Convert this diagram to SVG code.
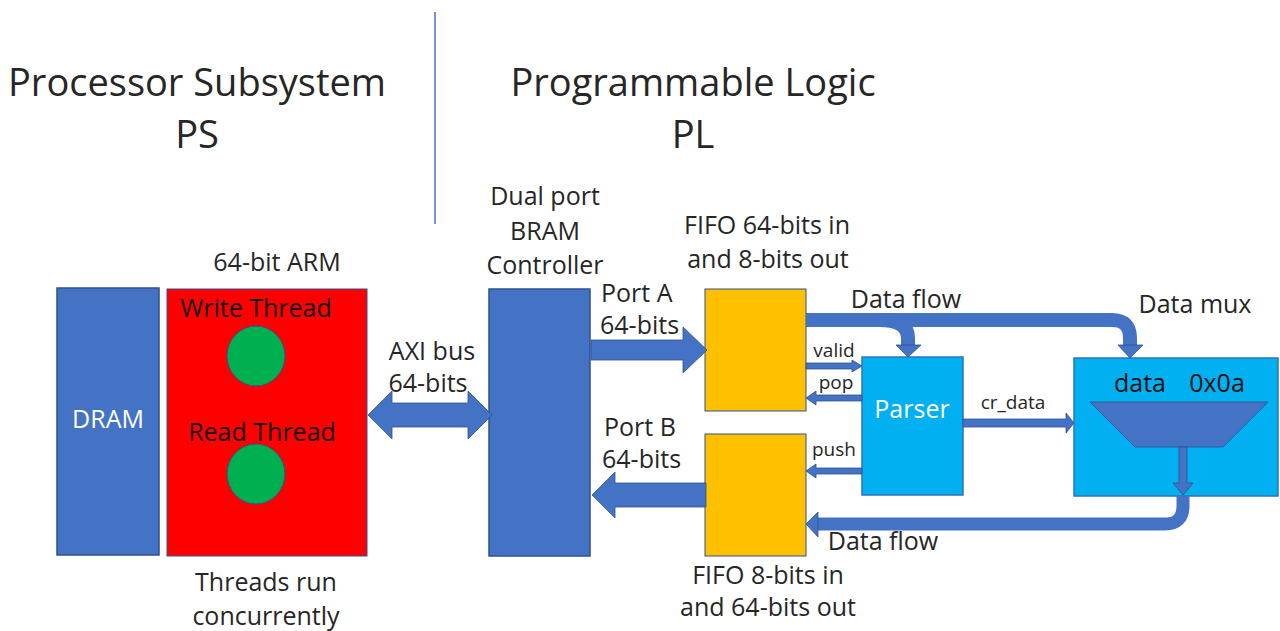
<svg xmlns="http://www.w3.org/2000/svg" width="1280" height="631" viewBox="0 0 1280 631">
<style>
text{font-family:"Open Sans","Liberation Sans",sans-serif;fill:#262626}
.t{font-size:38px}
.l{font-size:25px}
.s{font-size:19px}
.blk{fill:#4472C4;stroke:#2F528F;stroke-width:1.5}
.yel{fill:#FFC000;stroke:#2F528F;stroke-width:1}
.cy{fill:#00B0F0;stroke:#2E75B6;stroke-width:1.5}
.ar{fill:#4472C4;stroke:#2F528F;stroke-width:0.8}
.pipe{fill:none;stroke:#4472C4;stroke-width:14}
</style>
<rect width="1280" height="631" fill="#ffffff"/>
<line x1="435" y1="12" x2="435" y2="224" stroke="#4472C4" stroke-width="1.5"/>
<text class="t" x="197" y="96" text-anchor="middle">Processor Subsystem</text>
<text class="t" x="197" y="148" text-anchor="middle">PS</text>
<text class="t" x="693" y="96" text-anchor="middle">Programmable Logic</text>
<text class="t" x="693" y="148" text-anchor="middle">PL</text>

<g id="dram">
<rect class="blk" x="57" y="288" width="102" height="267"/>
<text class="l" x="108" y="428" text-anchor="middle" style="fill:#ffffff">DRAM</text>
</g>
<g id="arm">
<text class="l" x="277" y="271" text-anchor="middle">64-bit ARM</text>
<rect x="167" y="289" width="200" height="267" fill="#FF0000" stroke="#2F528F" stroke-width="1"/>
<text class="l" x="256" y="317" text-anchor="middle" style="fill:#111">Write Thread</text>
<ellipse cx="256" cy="356" rx="29" ry="30" fill="#00B050" stroke="#2F528F" stroke-width="1"/>
<text class="l" x="262" y="441" text-anchor="middle" style="fill:#111">Read Thread</text>
<ellipse cx="256" cy="474" rx="29" ry="30" fill="#00B050" stroke="#2F528F" stroke-width="1"/>
<text class="l" x="266" y="591" text-anchor="middle">Threads run</text>
<text class="l" x="266" y="625" text-anchor="middle">concurrently</text>
</g>
<g id="bram">
<text class="l" x="545" y="205" text-anchor="middle">Dual port</text>
<text class="l" x="545" y="240" text-anchor="middle">BRAM</text>
<text class="l" x="545" y="274" text-anchor="middle">Controller</text>
<rect class="blk" x="489" y="289" width="101" height="267"/>
</g>
<g id="fifo_in">
<text class="l" x="767" y="234" text-anchor="middle">FIFO 64-bits in</text>
<text class="l" x="768" y="268" text-anchor="middle">and 8-bits out</text>
<rect class="yel" x="705" y="289" width="101" height="122"/>
</g>
<g id="fifo_out">
<rect class="yel" x="705" y="434" width="101" height="122"/>
<text class="l" x="768" y="584" text-anchor="middle">FIFO 8-bits in</text>
<text class="l" x="768" y="616" text-anchor="middle">and 64-bits out</text>
</g>
<g id="parser">
<rect class="cy" x="862" y="357" width="101" height="138"/>
<text class="l" x="912" y="418" text-anchor="middle" style="fill:#ffffff">Parser</text>
</g>
<g id="mux">
<text class="l" x="1195" y="313" text-anchor="middle">Data mux</text>
<rect class="cy" x="1074" y="358" width="204" height="138"/>
<text class="l" x="1140" y="392" text-anchor="middle" style="fill:#111">data</text>
<text class="l" x="1217" y="392" text-anchor="middle" style="fill:#111">0x0a</text>
<polygon class="ar" points="1090,402 1268,402 1223,447 1135,447"/>
<polygon class="ar" points="1179,447 1187,447 1187,483 1193,483 1183,495 1173,483 1179,483"/>
</g>

<g id="connectors">
<polygon class="ar" points="368,415 392,391 392,403 468,403 468,391 492,415 468,439 468,427 392,427 392,439"/>
<text class="l" x="432" y="360" text-anchor="middle">AXI bus</text>
<text class="l" x="428" y="392" text-anchor="middle">64-bits</text>

<polygon class="ar" points="591,340 683,340 683,327 707,350 683,373 683,360 591,360"/>
<text class="l" x="601" y="302">Port A</text>
<text class="l" x="600" y="334">64-bits</text>

<polygon class="ar" points="592,495 615,472 615,483 706,483 706,507 615,507 615,518"/>
<text class="l" x="604" y="436">Port B</text>
<text class="l" x="602" y="468">64-bits</text>

<path class="pipe" d="M806,320 H1112 Q1130,320 1130,338 V346"/>
<polygon class="ar" points="1118,345 1143,345 1130,358"/>
<path class="pipe" d="M880,320 Q908,320 908,338 V346"/>
<polygon class="ar" points="896,345 921,345 908,357"/>
<text class="l" x="906" y="308" text-anchor="middle">Data flow</text>

<polygon class="ar" points="806,363 852,363 852,360 862,366 852,372 852,369 806,369"/>
<text class="s" x="834" y="357" text-anchor="middle">valid</text>
<polygon class="ar" points="862,395 816,395 816,391 806,398 816,405 816,401 862,401"/>
<text class="s" x="836" y="389" text-anchor="middle">pop</text>
<polygon class="ar" points="862,468 816,468 816,464 806,471 816,478 816,474 862,474"/>
<text class="s" x="834" y="456" text-anchor="middle">push</text>

<polygon class="ar" points="963,419 1066,419 1066,413 1074,423 1066,433 1066,427 963,427"/>
<text class="s" x="1013" y="409" text-anchor="middle">cr_data</text>

<path class="pipe" style="stroke-width:13" d="M1183,496 V506 Q1183,524 1165,524 H816"/>
<polygon class="ar" points="818,512 818,537 806,524"/>
<text class="l" x="883" y="550" text-anchor="middle">Data flow</text>
</g>
</svg>
